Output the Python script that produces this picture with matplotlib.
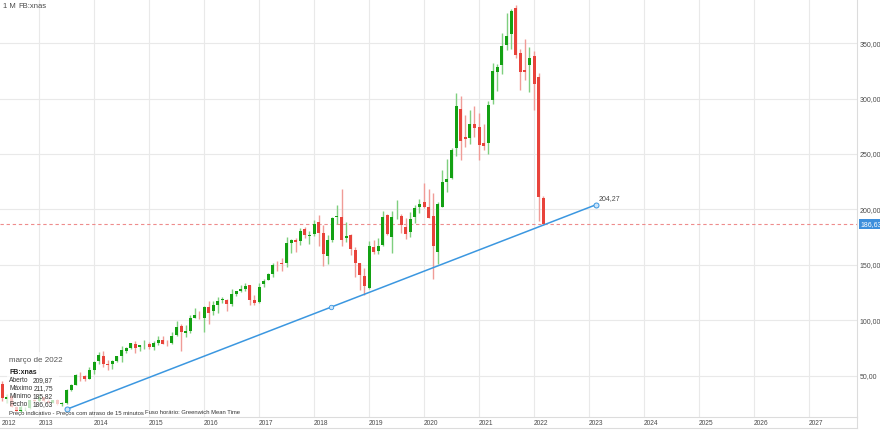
import matplotlib
matplotlib.use("Agg")
import matplotlib.pyplot as plt
from matplotlib.lines import Line2D
from matplotlib.patches import Rectangle
import numpy as np
import pandas as pd

plt.rcParams['font.family'] = ['Liberation Sans', 'DejaVu Sans']

# monthly candles FB:xnas, May 2012 .. Mar 2022
months = pd.date_range('2012-05-01', '2022-03-01', freq='MS')

opens = [
    42.05, 28.89, 31.25, 21.50, 18.08, 20.82, 21.08, 27.75,
    27.44, 31.01, 27.05, 25.63, 27.85, 24.27, 24.97, 37.30, 41.85, 50.40, 49.75, 46.90,
    54.83, 63.03, 67.74, 60.46, 60.43, 63.23, 67.58, 72.22, 74.70, 78.78, 75.45, 77.26,
    78.58, 76.11, 79.00, 82.50, 79.21, 79.30, 86.77, 94.31, 88.44, 90.05, 101.83, 104.83,
    101.95, 112.27, 107.83, 113.75, 117.83, 118.50, 114.20, 123.85, 126.38, 128.38, 131.41, 118.38,
    116.03, 132.25, 136.47, 142.11, 151.74, 151.75, 151.72, 169.82, 172.40, 171.39, 182.36, 176.03,
    177.68, 188.22, 179.01, 157.81, 172.00, 193.07, 193.37, 173.93, 177.15, 163.03, 151.52, 139.46,
    128.99, 165.84, 162.60, 167.83, 194.78, 175.00, 194.00, 194.18, 184.00, 179.15, 193.03, 202.13,
    206.75, 202.13, 194.03, 161.62, 202.56, 224.59, 228.50, 255.82, 290.50, 265.40, 264.70, 277.10,
    274.78, 259.52, 260.33, 298.31, 324.26, 330.15, 347.94, 358.10, 382.05, 341.61, 326.04, 330.30,
    338.30, 319.25, 209.87,
]
highs = [
    45.00, 33.45, 32.88, 22.45, 23.37, 22.00, 28.00, 28.88,
    32.51, 31.02, 28.98, 28.00, 29.07, 25.80, 37.96, 42.26, 51.60, 53.30, 50.80, 57.96,
    63.37, 71.44, 72.59, 63.91, 64.15, 68.00, 76.74, 75.99, 79.70, 81.16, 77.70, 82.17,
    80.00, 81.37, 86.07, 85.59, 81.81, 89.40, 99.24, 96.94, 95.49, 105.12, 110.65, 107.92,
    112.84, 117.59, 116.99, 120.79, 121.08, 119.44, 128.33, 126.73, 131.98, 133.50, 131.94, 122.50,
    133.14, 137.18, 142.95, 151.53, 153.60, 156.50, 175.49, 173.05, 174.00, 182.90, 184.25, 180.80,
    190.66, 195.32, 186.10, 177.10, 192.72, 203.55, 218.62, 188.30, 177.62, 165.88, 151.75, 147.19,
    171.68, 172.47, 174.30, 198.48, 196.18, 198.88, 208.66, 195.55, 192.64, 198.09, 203.80, 208.93,
    224.20, 218.77, 214.83, 206.47, 235.50, 245.19, 255.85, 304.67, 302.50, 285.00, 289.54, 293.20,
    286.76, 276.80, 298.00, 331.81, 331.09, 358.79, 377.55, 381.00, 384.33, 345.10, 353.83, 346.54,
    343.09, 323.17, 211.75,
]
lows = [
    26.83, 25.52, 21.61, 18.03, 17.55, 18.80, 19.90, 25.75,
    26.11, 26.34, 25.52, 25.11, 23.21, 22.67, 24.21, 35.96, 41.29, 44.82, 45.25, 46.59,
    51.85, 60.70, 57.98, 54.66, 56.26, 62.21, 62.21, 70.32, 73.93, 70.32, 72.51, 74.30,
    73.54, 73.45, 77.26, 78.37, 76.24, 78.72, 85.77, 72.00, 85.05, 88.36, 101.61, 101.46,
    89.37, 96.82, 104.40, 106.31, 115.88, 108.23, 112.97, 122.07, 125.60, 126.75, 113.55, 114.00,
    115.51, 130.30, 136.08, 138.81, 144.42, 144.56, 147.80, 160.52, 161.56, 168.29, 174.00, 169.01,
    175.80, 167.18, 149.02, 150.51, 170.23, 186.43, 166.56, 170.27, 158.87, 139.03, 126.85, 123.02,
    128.56, 159.59, 159.28, 167.28, 177.17, 160.84, 191.01, 178.61, 173.10, 175.51, 188.16, 196.70,
    200.85, 191.85, 137.10, 150.83, 202.10, 216.08, 227.82, 248.27, 244.13, 256.62, 258.60, 265.06,
    244.64, 253.50, 249.63, 295.00, 307.26, 322.51, 343.43, 344.84, 336.84, 308.11, 316.54, 305.72,
    289.30, 189.11, 185.82,
]
closes = [
    29.60, 31.10, 21.71, 18.06, 21.66, 21.11, 28.00, 26.62,
    30.98, 27.25, 25.58, 27.77, 24.35, 24.88, 36.80, 41.29, 50.23, 50.21, 47.01, 54.65,
    62.57, 68.46, 60.24, 59.78, 63.30, 67.29, 72.65, 74.82, 79.04, 74.99, 77.70, 78.02,
    75.91, 78.97, 82.22, 78.77, 79.19, 85.77, 94.01, 89.43, 89.90, 101.97, 104.24, 104.66,
    112.21, 106.92, 114.10, 117.58, 118.81, 114.28, 123.94, 126.12, 128.27, 130.99, 118.42, 115.05,
    130.32, 135.54, 142.05, 150.25, 151.46, 150.98, 169.25, 171.97, 170.87, 180.06, 177.18, 176.46,
    186.89, 178.32, 159.79, 172.00, 191.78, 194.32, 172.58, 175.73, 164.46, 151.79, 140.61, 131.09,
    166.69, 161.45, 166.69, 193.40, 177.47, 193.00, 194.23, 185.67, 178.08, 191.65, 201.64, 205.25,
    201.91, 192.47, 166.80, 204.71, 225.09, 227.07, 253.67, 293.20, 261.90, 263.11, 276.97, 273.16,
    258.33, 257.62, 294.53, 325.08, 328.73, 347.71, 356.30, 379.38, 339.39, 323.57, 324.46, 336.35,
    313.26, 211.03, 186.63,
]

last_price = 186.63
# trend line (date in years, price)
trend_x = [2013.50, 2023.13]
trend_y = [19.5, 204.27]

info_title = "março de 2022"
info_symbol = "FB:xnas"
info_labels = ["Aberto", "Máximo", "Mínimo", "Fecho"]
info_values = ["209,87", "211,75", "185,82", "186,63"]

year_ticks = list(range(2013, 2028))
price_ticks = [50, 100, 150, 200, 250, 300, 350]

GREEN = '#13a113'
GREEN_W = '#7fcf7f'
RED = '#e8433b'
RED_W = '#f09c97'
BLUE = '#3b97e0'
GRID = '#e9e9e9'
TXT = '#4a4a4a'

W, H = 880, 433
fig = plt.figure(figsize=(W / 100, H / 100), dpi=100)
ax = fig.add_axes([0, 16 / H, 857 / W, 417 / H])


def fx(px):
    return px / W


def fy(py):
    return 1 - py / H


x = np.array([d.year + (d.month - 1) / 12 for d in months])
o = np.array(opens)
h = np.array(highs)
l = np.array(lows)
c = np.array(closes)
up = c >= o

body_w = 0.055
ax.vlines(x[up], l[up], h[up], color=GREEN_W, lw=1.0, zorder=2)
ax.vlines(x[~up], l[~up], h[~up], color=RED_W, lw=1.0, zorder=2)
ax.bar(x[up], (c - o)[up], bottom=o[up], width=body_w, color=GREEN, lw=0, zorder=3)
ax.bar(x[~up], (c - o)[~up], bottom=o[~up], width=body_w, color=RED, lw=0, zorder=3)

# last price line
ax.axhline(last_price, color='#ee8c8c', lw=0.8, dashes=(3, 2.5), zorder=1)

# trend line
ax.plot(trend_x, trend_y, color=BLUE, lw=1.1, zorder=4)
ax.plot(trend_x, trend_y, ls='none', marker='o', ms=3.6, mfc='#cde5fa',
        mec=BLUE, mew=0.7, zorder=5)
ax.plot([np.mean(trend_x)], [np.mean(trend_y)], ls='none', marker='o', ms=3.2,
        mfc='#cde5fa', mec=BLUE, mew=0.6, zorder=5)
ax.annotate(f"{trend_y[1]:.2f}".replace('.', ','), xy=(trend_x[1], trend_y[1]),
            xytext=(2, 2), textcoords='offset points', fontsize=5, color=TXT,
            ha='left', va='bottom')

ax.set_xlim(2012.29, 2012.29 + 857 / 55.0)
ax.set_ylim(12.6, 389)

ax.set_xticks(year_ticks)
ax.set_xticklabels([str(t) for t in year_ticks])
for lbl in ax.get_xticklabels():
    lbl.set_horizontalalignment('left')
ax.tick_params(axis='x', length=0, pad=2.5, labelsize=4.8, labelcolor=TXT)
ax.text(0.002, -0.008, "2012", transform=ax.transAxes, fontsize=4.8,
        color=TXT, ha='left', va='top')

ax.yaxis.tick_right()
ax.set_yticks(price_ticks)
ax.set_yticklabels([f"{t:.2f}".replace('.', ',') for t in price_ticks])
ax.tick_params(axis='y', length=0, pad=2, labelsize=5, labelcolor=TXT)

ax.grid(True, color=GRID, lw=0.8)
ax.set_axisbelow(True)
for s in ['left', 'top']:
    ax.spines[s].set_visible(False)
for s in ['right', 'bottom']:
    ax.spines[s].set_color('#dcdcdc')
    ax.spines[s].set_linewidth(0.8)

# last price tag
ax.annotate(f"{last_price:.2f}".replace('.', ','), xy=(1, last_price),
            xycoords=('axes fraction', 'data'), xytext=(2.2, 0),
            textcoords='offset points', fontsize=5, color='white',
            ha='left', va='center',
            bbox=dict(boxstyle='square,pad=0.18', fc='#3d8fdc', ec='none'))

# bottom border of the date band
fig.add_artist(Line2D([0, 857 / W], [fy(428), fy(428)], color='#dcdcdc', lw=0.8))
fig.add_artist(Line2D([857 / W, 857 / W], [fy(428), fy(417)], color='#dcdcdc', lw=0.8))

# header
fig.text(fx(3), fy(6), "1 M", fontsize=5.5, color=TXT, va='center')
fig.text(fx(18), fy(6), "FB:xnas", fontsize=5.5, color=TXT, va='center')

# info panel
fig.add_artist(Rectangle((fx(7), fy(410)), 52 / W, 58 / H, transform=fig.transFigure,
                         fc='white', ec='none', alpha=0.72, zorder=2))
fig.text(fx(9), fy(360), info_title, fontsize=5.8, color='#555555', va='center', zorder=3)
fig.text(fx(9), fy(372), info_symbol, fontsize=5.0, color='#222222', va='center',
         fontweight='bold', zorder=3)
for i, (lab, val) in enumerate(zip(info_labels, info_values)):
    yy = 381 + i * 7.8
    fig.text(fx(9), fy(yy), lab, fontsize=4.8, color='#333333', va='center', zorder=3)
    fig.text(fx(53), fy(yy), val, fontsize=4.8, color='#333333', va='center',
             ha='right', zorder=3)
fig.text(fx(9), fy(413), "Preço indicativo - Preços com atraso de 15 minutos",
         fontsize=4.2, color='#333333', va='center', zorder=3)
fig.text(fx(145), fy(413), "Fuso horário: Greenwich Mean Time",
         fontsize=4.2, color='#333333', va='center', zorder=3)

fig.savefig("out.png", dpi=100, facecolor='white')
